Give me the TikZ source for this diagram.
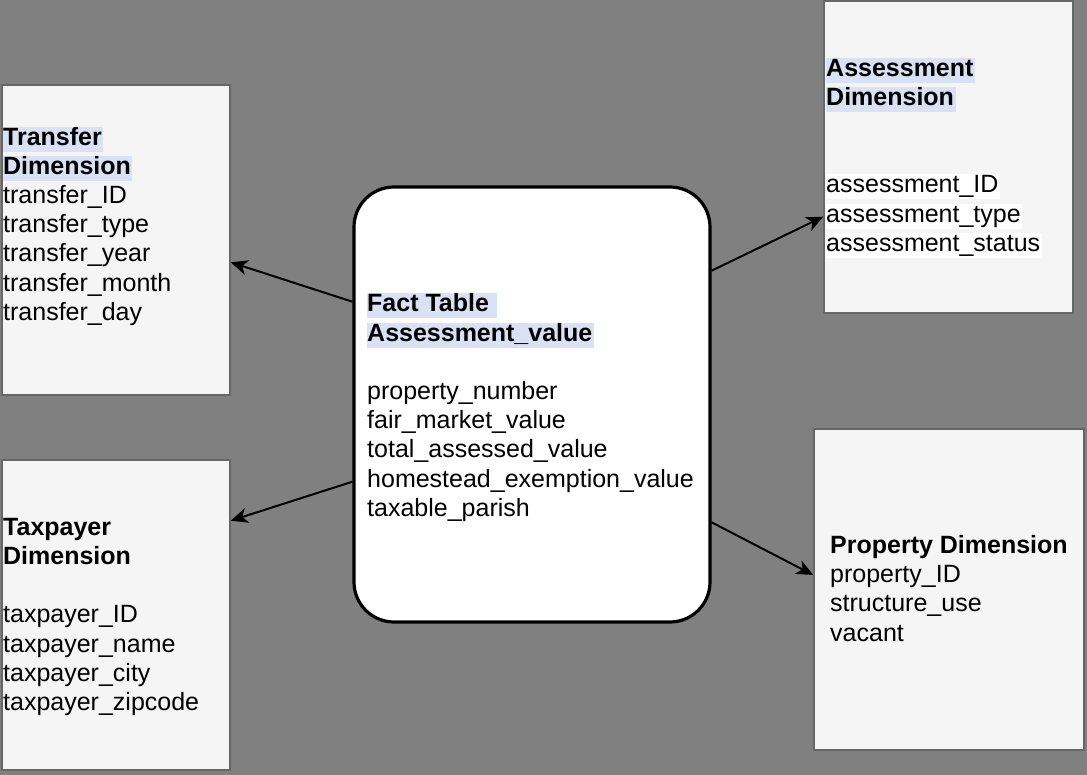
\documentclass[tikz,border=0pt]{standalone}
\usepackage{fontspec}
\setmainfont{Liberation Sans}
\usetikzlibrary{arrows.meta}
\definecolor{bggray}{HTML}{808080}
\definecolor{boxfill}{HTML}{F5F5F5}
\definecolor{boxline}{HTML}{666666}
\definecolor{hlblue}{HTML}{DAE1F4}
\newcommand{\hlbox}[2]{{\setlength{\fboxsep}{0pt}\colorbox{#1}{\rule[-6.5pt]{0pt}{25pt}#2\kern1.5pt}}}
\newcommand{\hb}[1]{\hlbox{hlblue}{\textbf{#1}}}
\newcommand{\hw}[1]{\hlbox{white}{#1}}
\newcommand{\firststrut}{\rule[-6.5pt]{0pt}{25pt}}
\begin{document}
\begin{tikzpicture}[x=1pt,y=-1pt,
  dimbox/.style={draw=boxline, line width=1.5pt, fill=boxfill, inner sep=0pt},
  factbox/.style={draw=black, line width=3.2pt, fill=white, rounded corners=40pt, inner sep=0pt},
  txt/.style={anchor=north west, align=left, inner sep=0pt, font=\fontsize{25}{29.2}\selectfont},
  arr/.style={draw=black, line width=2pt, -{Stealth[length=17pt,width=15pt,inset=5pt]}}]
\useasboundingbox (0,0) rectangle (1087,775);
\fill[bggray] (0,0) rectangle (1087,775);
% boxes
\node[dimbox, minimum width=228pt, minimum height=310pt] (transfer) at (116,240) {};
\node[dimbox, minimum width=249pt, minimum height=312pt] (assess) at (948.5,157) {};
\node[dimbox, minimum width=228pt, minimum height=310pt] (taxpayer) at (116,615) {};
\node[dimbox, minimum width=270pt, minimum height=321pt] (property) at (949,589.5) {};
\node[factbox, minimum width=356pt, minimum height=435pt] (fact) at (532,404.5) {};
% texts
\node[txt] (transfertxt) at (3,126.5) {\hb{Transfer}\\ \hb{Dimension}\\ transfer\_ID\\ transfer\_type\\ transfer\_year\\ transfer\_month\\ transfer\_day};
\node[txt] (assesstxt) at (826,57.5) {\hb{Assessment}\\ \hb{Dimension}\\[58.4pt] \hw{assessment\_ID}\\ \hw{assessment\_type}\\ \hw{assessment\_status}};
\node[txt] (facttxt) at (367,293.2) {\hb{Fact Table\ }\\ \hb{Assessment\_value}\\[29.2pt] property\_number\\ fair\_market\_value\\ total\_assessed\_value\\ homestead\_exemption\_value\\ taxable\_parish};
\node[txt] (taxpayertxt) at (3,516.5) {\firststrut\textbf{Taxpayer}\\ \textbf{Dimension}\\[29.2pt] taxpayer\_ID\\ taxpayer\_name\\ taxpayer\_city\\ taxpayer\_zipcode};
\node[txt] (propertytxt) at (830,534.8) {\firststrut\textbf{Property Dimension}\\ property\_ID\\ structure\_use\\ vacant};
% connectors
\draw[arr] ([yshift=102.8pt]fact.west) -- ([yshift=-22.3pt]transfer.east);
\draw[arr] ([yshift=-77.2pt]fact.west) -- ([yshift=94.3pt]taxpayer.east);
\draw[arr] ([yshift=133.8pt]fact.east) -- ([yshift=-59.7pt]assess.west);
\draw[arr] ([yshift=-117.8pt]fact.east) -- ([yshift=14.5pt]property.west);
\end{tikzpicture}
\end{document}
